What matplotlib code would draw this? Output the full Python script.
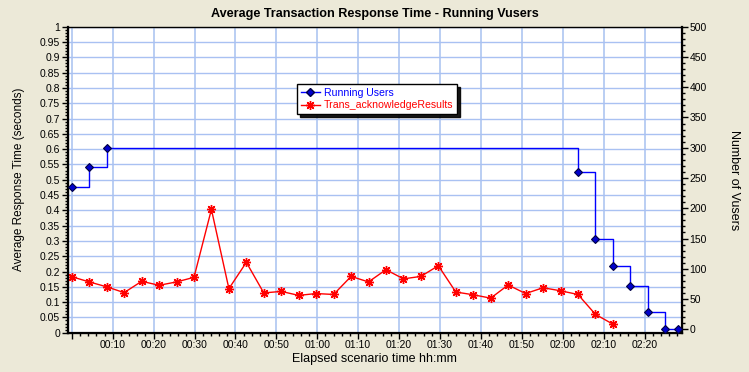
import matplotlib.pyplot as plt
from matplotlib.ticker import MultipleLocator, FuncFormatter
from matplotlib.lines import Line2D

plt.rcParams['font.family'] = ['Liberation Sans', 'DejaVu Sans']

# elapsed time (minutes) of each sample of the transaction
trans_time = [0.0, 4.27, 8.53, 12.8, 17.07, 21.33, 25.6, 29.87, 34.13, 38.4,
              42.67, 46.93, 51.2, 55.47, 59.73, 64.0, 68.27, 72.53, 76.8, 81.07,
              85.33, 89.6, 93.87, 98.13, 102.4, 106.67, 110.93, 115.2, 119.47,
              123.73, 128.0, 132.27]
trans_resp = [0.183, 0.166, 0.150, 0.131, 0.168, 0.155, 0.166, 0.181, 0.403, 0.144,
              0.230, 0.130, 0.135, 0.122, 0.128, 0.125, 0.184, 0.166, 0.206, 0.176,
              0.184, 0.219, 0.133, 0.124, 0.113, 0.156, 0.128, 0.147, 0.137,
              0.125, 0.060, 0.028]

# running vusers
users_time = [0.0, 4.27, 8.53, 123.73, 128.0, 132.27, 136.53, 140.8, 145.07, 148.1]
users_count = [235, 268, 300, 260, 150, 105, 71, 28, 0, 0]

x_ticks = [10, 20, 30, 40, 50, 60, 70, 80, 90, 100, 110, 120, 130, 140]

bg = '#ece9d8'
grid_col = '#a9c1f2'
blue = '#0000ff'
red = '#ff0000'

fig = plt.figure(figsize=(7.49, 3.72), dpi=100, facecolor=bg)
ax = fig.add_axes([0.0904, 0.1056, 0.8198, 0.8226])
ax.set_facecolor('white')

ax.set_xlim(-1.0, 149.1)
ax.set_ylim(0, 1)

ax.yaxis.set_major_locator(MultipleLocator(0.05))
ax.yaxis.set_minor_locator(MultipleLocator(0.01))
ax.yaxis.set_major_formatter(FuncFormatter(lambda v, p: ('%.2f' % v).rstrip('0').rstrip('.')))
ax.set_xticks([0] + x_ticks)
ax.set_xticklabels([''] + ['%02d:%02d' % (t // 60, t % 60) for t in x_ticks])
ax.xaxis.set_minor_locator(MultipleLocator(2))

ax.grid(True, which='major', axis='y', color=grid_col, lw=1.0, zorder=0)
ax.grid(True, which='major', axis='x', color='#b4caf2', lw=1.3, zorder=0)
ax.set_axisbelow(True)

ax.plot(trans_time, trans_resp, color=red, lw=1.0, marker=(8, 2, 0),
        markersize=6.5, markeredgewidth=1.0, zorder=3)

ax.tick_params(which='major', direction='out', length=4, width=1, color='black',
               labelsize=7.5, pad=1.5)
ax.tick_params(which='minor', direction='out', length=2, width=1, color='black')
for s in ax.spines.values():
    s.set_color('black')
ax.spines['left'].set_linewidth(1.6)
ax.spines['bottom'].set_linewidth(1.6)
ax.spines['top'].set_linewidth(1.0)
ax.spines['top'].set_color('#333333')

ax.set_ylabel('Average Response Time (seconds)', fontsize=8.5, labelpad=11)
ax.set_xlabel('Elapsed scenario time hh:mm', fontsize=9, labelpad=2)

ax2 = ax.twinx()
ax2.set_ylim(-5.6, 500)
ax2.yaxis.set_major_locator(MultipleLocator(50))
ax2.yaxis.set_minor_locator(MultipleLocator(10))
ax2.plot(users_time, users_count, color=blue, lw=1.0, drawstyle='steps-post', zorder=3)
ax2.plot(users_time, users_count, color=blue, lw=0, marker='D', markersize=4.5,
         markerfacecolor='#0000cc', markeredgecolor='#000044', markeredgewidth=0.8, zorder=4)
ax2.tick_params(which='major', direction='out', length=4, width=1, color='black',
                labelsize=7.5, pad=1.5)
ax2.tick_params(which='minor', direction='out', length=2, width=1, color='black')
ax2.spines['right'].set_linewidth(1.6)
ax2.spines['right'].set_color('black')
ax2.set_ylabel('Number of Vusers', fontsize=9, rotation=270, labelpad=24)

fig.text(0.5, 0.962, 'Average Transaction Response Time - Running Vusers',
         ha='center', va='center', fontsize=9.1, fontweight='bold')

handles = [
    Line2D([], [], color=blue, lw=1, marker='D', markersize=4, markerfacecolor='#0000cc',
           markeredgecolor='#000044'),
    Line2D([], [], color=red, lw=1, marker=(8, 2, 0), markersize=6.5),
]
leg = ax2.legend(handles, ['Running Users', 'Trans_acknowledgeResults'],
                 loc='upper left', bbox_to_anchor=(0.3734, 0.8127), fontsize=7.6,
                 frameon=True, fancybox=False, edgecolor='black', framealpha=1,
                 shadow={'color': 'black', 'alpha': 0.9}, handlelength=1.8,
                 handletextpad=0.4, borderpad=0.35, labelspacing=0.25, borderaxespad=0)
leg.get_frame().set_linewidth(1.0)
leg.get_texts()[0].set_color(blue)
leg.get_texts()[1].set_color(red)

fig.savefig('out.png', dpi=100, facecolor=bg)
